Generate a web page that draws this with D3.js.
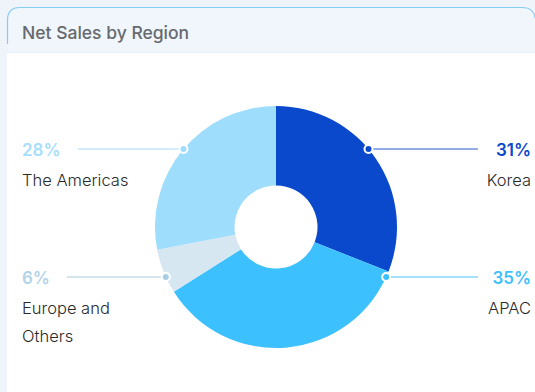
<!DOCTYPE html>
<html>
<head>
<meta charset="utf-8">
<script src="https://cdn.jsdelivr.net/npm/d3@7"></script>
<style>
  html, body { margin: 0; padding: 0; background: #eef4f9; }
  body { width: 535px; height: 392px; overflow: hidden; font-family: Inter, "Noto Sans", sans-serif; }
  svg { display: block; }
</style>
</head>
<body>
<svg id="chart" width="535" height="392"></svg>
<script>
// Net sales share by region, clockwise from 12 o'clock
const regions = ["Korea", "APAC", "Europe and Others", "The Americas"];
const shares = [31, 35, 6, 28];
const sliceColors = ["#0a49cc", "#3dc0fe", "#d6e7f2", "#9fddfd"];
const dotColors = ["#0a49cc", "#3dc0fe", "#a9cde2", "#9fddfd"];
const pctColors = ["#0a49cc", "#3dc0fe", "#b3d4e8", "#a6defc"];
const leaderColors = ["#6f90df", "#86d5fc", "#c6dde9", "#c2e7fb"];
const labelLines = [["Korea"], ["APAC"], ["Europe and", "Others"], ["The Americas"]];
const labelSide = ["right", "right", "left", "left"];
const labelRow = ["upper", "lower", "lower", "upper"];

const W = 535, H = 392;
const cx = 276, cy = 227, outerR = 121, innerR = 41.5;
const rowOffset = { upper: -78, lower: 50 };

const svg = d3.select("#chart");

// card frame
svg.append("rect").attr("x", 0).attr("y", 0).attr("width", W).attr("height", H).attr("fill", "#eef4f9");
svg.append("rect").attr("x", 8).attr("y", 8.5).attr("width", W - 8).attr("height", 44).attr("fill", "#f0f6fb");
svg.append("path")
  .attr("d", `M7.5,44 V20 Q7.5,7.5 20,7.5 H522 Q534,7.5 535,18`)
  .attr("fill", "none")
  .attr("stroke", "#86cdf3")
  .attr("stroke-width", 1.2);
svg.append("line").attr("x1", 7).attr("x2", W).attr("y1", 52.5).attr("y2", 52.5).attr("stroke", "#e6eef5");
svg.append("rect").attr("x", 7).attr("y", 53).attr("width", W - 7).attr("height", H - 53).attr("fill", "#ffffff");

svg.append("text")
  .attr("x", 22).attr("y", 39)
  .attr("fill", "#666a6e")
  .attr("font-size", 17.5)
  .attr("font-weight", 500)
  .text("Net Sales by Region");

// donut
const pie = d3.pie().sort(null).value(d => d).startAngle(0).endAngle(2 * Math.PI);
const arcs = pie(shares);
const arc = d3.arc().innerRadius(innerR).outerRadius(outerR);

const g = svg.append("g").attr("transform", `translate(${cx},${cy})`);
g.selectAll("path.slice")
  .data(arcs)
  .join("path")
  .attr("class", "slice")
  .attr("d", arc)
  .attr("fill", (d, i) => sliceColors[i]);

// leaders and labels
const leftX = 22, rightX = 531;
regions.forEach((name, i) => {
  const dy = rowOffset[labelRow[i]];
  const right = labelSide[i] === "right";
  const dx = Math.sqrt(outerR * outerR - dy * dy) * (right ? 1 : -1);
  const px = cx + dx, py = cy + dy;
  const lineEnd = right ? 478 : (labelLines[i].length > 1 ? 67 : 78);

  svg.append("line")
    .attr("x1", px).attr("x2", lineEnd)
    .attr("y1", py).attr("y2", py)
    .attr("stroke", leaderColors[i])
    .attr("stroke-width", 1.5);
  svg.append("circle")
    .attr("cx", px).attr("cy", py).attr("r", 4)
    .attr("fill", dotColors[i])
    .attr("stroke", "#ffffff").attr("stroke-width", 2);

  const anchor = right ? "end" : "start";
  const tx = right ? rightX : leftX;
  svg.append("text")
    .attr("x", tx).attr("y", py + 6.5)
    .attr("text-anchor", anchor)
    .attr("font-size", 17)
    .attr("font-weight", 600)
    .attr("fill", pctColors[i])
    .text(shares[i] + "%");
  labelLines[i].forEach((ln, k) => {
    svg.append("text")
      .attr("x", tx).attr("y", py + 37 + k * 28)
      .attr("text-anchor", anchor)
      .attr("font-size", 16.5)
      .attr("font-weight", 300)
      .attr("fill", "#2a2a2a")
      .text(ln);
  });
});
</script>
</body>
</html>
